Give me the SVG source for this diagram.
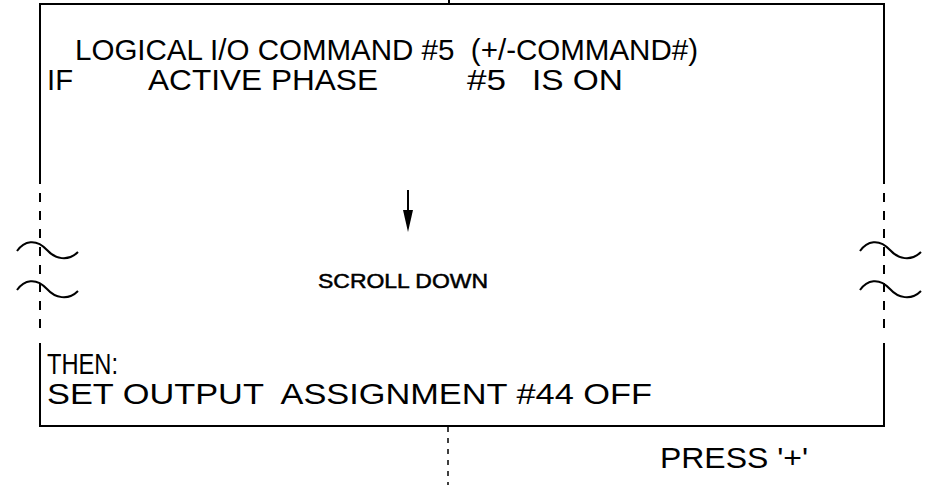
<svg xmlns="http://www.w3.org/2000/svg" width="948" height="485" viewBox="0 0 948 485">
<style>
.ln{stroke:#000;stroke-width:2;fill:none}
.dl{stroke:#000;stroke-width:2;fill:none;stroke-dasharray:9 9}
.sq{stroke:#000;stroke-width:2;fill:none}
.t{font-family:"Liberation Sans",Arial,sans-serif;font-size:30px;fill:#000}
.s{font-family:"Liberation Sans",Arial,sans-serif;font-size:20px;fill:#000;stroke:#000;stroke-width:0.5}
</style>
<g id="screen">
<line class="ln" x1="40" y1="4" x2="884" y2="4"/>
<line class="ln" x1="40" y1="426" x2="884" y2="426"/>
<line class="ln" x1="40" y1="3" x2="40" y2="184"/>
<line class="dl" x1="40" y1="193" x2="40" y2="335"/>
<line class="ln" x1="40" y1="343" x2="40" y2="427"/>
<line class="ln" x1="884" y1="3" x2="884" y2="184"/>
<line class="dl" x1="884" y1="193" x2="884" y2="335"/>
<line class="ln" x1="884" y1="343" x2="884" y2="427"/>
</g>
<g id="breaks">
<path class="sq" d="M17,251 C24,241 36,238 47,250 C55,259 68,262 78,252"/>
<path class="sq" d="M17,290 C24,280 36,277 47,289 C55,298 68,301 78,291"/>
<path class="sq" d="M860,251 C867,241 879,238 890,250 C898,259 911,262 921,252"/>
<path class="sq" d="M860,290 C867,280 879,277 890,289 C898,298 911,301 921,291"/>
</g>
<g id="texts">
<text class="t" x="75" y="60" textLength="623" lengthAdjust="spacingAndGlyphs" xml:space="preserve">LOGICAL I/O COMMAND #5  (+/-COMMAND#)</text>
<text class="t" x="47" y="90" textLength="26" lengthAdjust="spacingAndGlyphs">IF</text>
<text class="t" x="148" y="90" textLength="230" lengthAdjust="spacingAndGlyphs">ACTIVE PHASE</text>
<text class="t" x="467" y="90" textLength="39" lengthAdjust="spacingAndGlyphs">#5</text>
<text class="t" x="532" y="90" textLength="91" lengthAdjust="spacingAndGlyphs">IS ON</text>
<text class="s" x="318" y="288" textLength="170" lengthAdjust="spacingAndGlyphs">SCROLL DOWN</text>
<text class="t" x="47" y="374" textLength="71" lengthAdjust="spacingAndGlyphs">THEN:</text>
<text class="t" x="47" y="404" textLength="605" lengthAdjust="spacingAndGlyphs" xml:space="preserve">SET OUTPUT  ASSIGNMENT #44 OFF</text>
<text class="t" x="660" y="468" textLength="148" lengthAdjust="spacingAndGlyphs">PRESS '+'</text>
</g>
<g id="connectors">
<line class="ln" x1="449" y1="0" x2="449" y2="3"/>
<line x1="448" y1="427" x2="448" y2="485" stroke="#000" stroke-width="1.5" stroke-dasharray="5 6"/>
<line class="ln" x1="408" y1="190" x2="408" y2="215"/>
<polygon points="403,210 413,210 408,232" fill="#000"/>
</g>
</svg>
